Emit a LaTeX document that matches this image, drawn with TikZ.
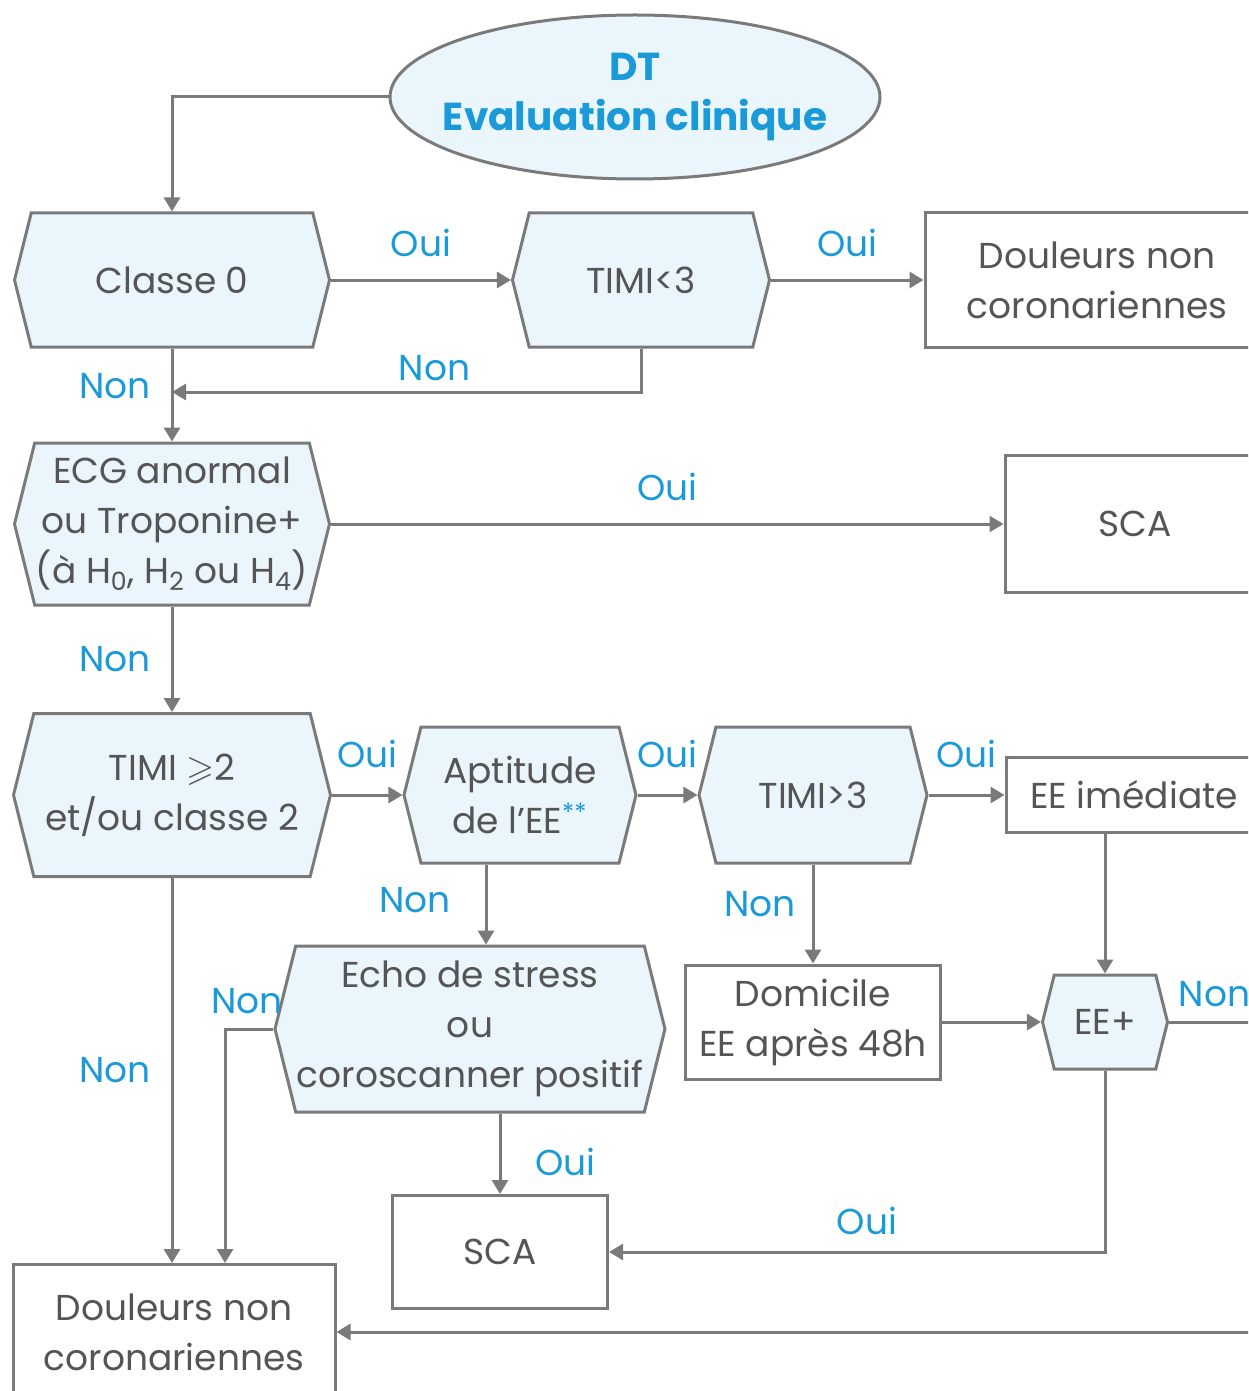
\documentclass[tikz,border=0pt]{standalone}
\usepackage{fontspec}
\setmainfont{Poppins}
\usepackage{amssymb}
\usetikzlibrary{shapes.geometric, shapes.symbols, positioning, arrows.meta}
\definecolor{lignegris}{HTML}{7A7A7A}
\definecolor{textegris}{HTML}{555555}
\definecolor{bleu}{HTML}{1A9AD8}
\definecolor{fondbleu}{HTML}{EBF5FC}

\begin{document}
\begin{tikzpicture}[x=0.5pt,y=-0.5pt,on grid,
    every node/.style={font=\fontsize{18}{25}\selectfont, text=textegris, align=center, inner sep=0pt},
    test/.style={signal, signal to=west and east, signal pointer angle=152, draw=lignegris, line width=1.5pt, fill=fondbleu},
    issue/.style={rectangle, draw=lignegris, line width=1.5pt, fill=white},
    lab/.style={text=bleu, inner sep=5pt},
    fl/.style={draw=lignegris, line width=1.5pt, -{Triangle[length=7pt,width=8pt]}}]
  \useasboundingbox (0,0) rectangle (1248,1391);
  \clip (0,0) rectangle (1248,1391);

  \node[ellipse, draw=lignegris, line width=1.5pt, fill=fondbleu, minimum width=245pt, minimum height=82pt,
        label={[text=bleu, font=\fontsize{19.5}{25}\selectfont\bfseries, align=center]center:DT\\Evaluation clinique}]
        (eval) at (635,97) {};

  \node[test, minimum width=157.5pt, minimum height=67pt] (cl0) at (172,280) {Classe 0};
  \node[test, minimum width=128.5pt, minimum height=67pt, right=234.5pt of cl0] (timi3) {TIMI<3};
  \node[issue, minimum width=172pt, minimum height=67.5pt, right=228pt of timi3] (dnc1) {Douleurs non\\coronariennes};
  \node[test, minimum width=157.5pt, minimum height=81pt, below=122pt of cl0] (ecg)
    {ECG anormal\\ou Troponine+\\(à H\textsubscript{0}, H\textsubscript{2} ou H\textsubscript{4})};
  \node[issue, minimum width=130pt, minimum height=68.5pt, right=481.5pt of ecg] (sca1) {SCA};
  \node[test, minimum width=158.5pt, minimum height=81.5pt, below=135.5pt of ecg] (timi2) {TIMI $\geqslant$2\\et/ou classe 2};
  \node[test, minimum width=116pt, minimum height=68pt, right=174pt of timi2] (apt) {Aptitude\\de l’EE\textsuperscript{\color{bleu}**}};
  \node[test, minimum width=114pt, minimum height=68pt, right=146.5pt of apt] (timi3b) {TIMI>3};
  \node[issue, minimum width=128pt, minimum height=37.5pt, right=160.5pt of timi3b] (eei) {EE imédiate};
  \node[test, minimum width=195pt, minimum height=83pt] (echo) at (470,1029) {Echo de stress\\ou\\coroscanner positif};
  \node[issue, minimum width=127.5pt, minimum height=57pt, below=113.5pt of timi3b] (dom) {Domicile\\EE après 48h};
  \node[test, minimum width=62.5pt, minimum height=47pt, right=146pt of dom] (eep) {EE+};
  \node[issue, minimum width=107.5pt, minimum height=56.5pt] (sca2) at (500,1252) {SCA};
  \node[issue, minimum width=161pt, minimum height=67.5pt] (dnc2) at (174,1332) {Douleurs non\\coronariennes};

  \coordinate (j1) at (cl0.south |- 0,392);

  \draw[fl] (eval.west) -| (cl0.north);
  \draw[fl] (cl0.east) -- node[lab, above=6pt] (o1) {Oui} (timi3.west);
  \draw[fl] (timi3.east) -- node[lab, above=6pt] (o2) {Oui} (dnc1.west);
  \draw[fl] (timi3.south) |- node[lab, above, pos=.72] (n1) {Non} (j1);
  \draw[fl] (cl0.south) -- node[lab, left=5pt, pos=.4] (n2) {Non} (ecg.north);
  \draw[fl] (ecg.east) -- node[lab, above=6pt] (o3) {Oui} (sca1.west);
  \draw[fl] (ecg.south) -- node[lab, left=5pt] (n3) {Non} (timi2.north);
  \draw[fl] (timi2.east) -- node[lab, above=8pt] (o4) {Oui} (apt.west);
  \draw[fl] (apt.east) -- node[lab, above=8pt] (o5) {Oui} (timi3b.west);
  \draw[fl] (timi3b.east) -- node[lab, above=8pt] (o6) {Oui} (timi3b.east -| eei.west);
  \draw[fl] ([xshift=-17pt]apt.south) -- node[lab, left=12pt, pos=.45] (n4) {Non} ([xshift=-17pt]apt.south |- echo.north);
  \draw[fl] (timi3b.south) -- node[lab, left=3pt, pos=.4] (n5) {Non} (dom.north);
  \draw[fl] (eep.north |- eei.south) -- (eep.north);
  \draw[fl] (dom.east) -- (eep.west);
  \draw[fl] (echo.west) -| node[lab, above=2pt, pos=.27] (n6) {Non} ([xshift=25.5pt]dnc2.north);
  \draw[fl] (timi2.south) -- node[lab, left=5pt] (n7) {Non} (timi2.south |- dnc2.north);
  \draw[fl] (sca2.north |- echo.south) -- node[lab, right=12pt, pos=.6] (o7) {Oui} (sca2.north);
  \draw[fl] (eep.south) |- node[lab, above=3pt, pos=.74] (o8) {Oui} (sca2.east);
  \draw[fl] (eep.east) -- node[lab, above=2pt, pos=.35] (n8) {Non} ++(130,0) |- (dnc2.east);
\end{tikzpicture}
\end{document}
